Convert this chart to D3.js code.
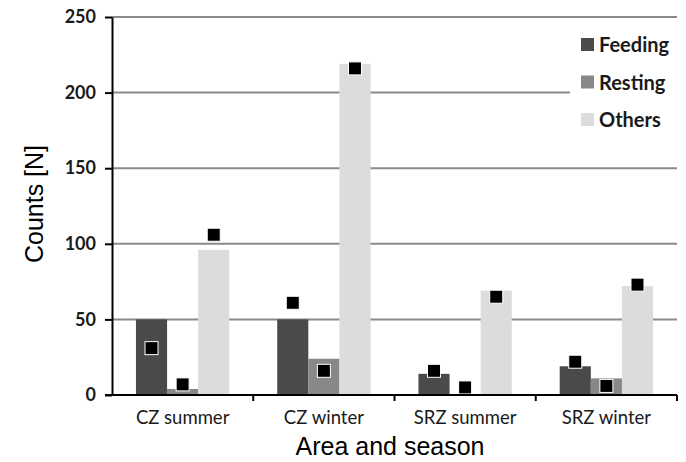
<!DOCTYPE html>
<html>
<head>
<meta charset="utf-8">
<script src="https://cdn.jsdelivr.net/npm/d3@7"></script>
<style>
  body { margin: 0; background: #fff; }
  svg { display: block; }
</style>
</head>
<body>
<div id="chart"></div>
<script>
// data
const categories = ["CZ summer", "CZ winter", "SRZ summer", "SRZ winter"];
const series = ["Feeding", "Resting", "Others"];
const feeding = [50, 50, 14, 19];
const resting = [4, 24, 0, 11];
const others = [96, 219, 69, 72];
// black square markers (one per bar)
const feedingPts = [31, 61, 16, 22];
const restingPts = [7, 16, 5, 6];
const othersPts = [106, 216, 65, 73];
const yTicks = [0, 50, 100, 150, 200, 250];

const width = 686, height = 462;
const margin = { top: 17, right: 9, bottom: 67, left: 112 };

const svg = d3.select("#chart")
  .append("svg")
  .attr("width", width)
  .attr("height", height);

const color = { "Feeding": "#4a4a4a", "Resting": "#888888", "Others": "#dcdcdc" };

const rows = categories.map((c, i) => ({
  cat: c,
  vals: [
    { s: "Feeding", v: feeding[i], p: feedingPts[i] },
    { s: "Resting", v: resting[i], p: restingPts[i] },
    { s: "Others", v: others[i], p: othersPts[i] }
  ]
}));

const x0 = d3.scaleBand()
  .domain(categories)
  .range([margin.left, width - margin.right])
  .paddingInner(0).paddingOuter(0);

const x1 = d3.scaleBand()
  .domain(series)
  .range([0, x0.bandwidth()])
  .paddingInner(0).paddingOuter(0.77);

const y = d3.scaleLinear()
  .domain([0, 250])
  .range([height - margin.bottom, margin.top]);

// gridlines
svg.append("g")
  .selectAll("line")
  .data(yTicks.filter(d => d > 0))
  .join("line")
  .attr("x1", margin.left)
  .attr("x2", width - margin.right)
  .attr("y1", d => y(d))
  .attr("y2", d => y(d))
  .attr("stroke", "#8a8a8a")
  .attr("stroke-width", 2);

// bars
const groups = svg.append("g")
  .selectAll("g")
  .data(rows)
  .join("g")
  .attr("transform", d => `translate(${x0(d.cat)},0)`);

groups.selectAll("rect")
  .data(d => d.vals)
  .join("rect")
  .attr("x", d => x1(d.s))
  .attr("y", d => y(d.v))
  .attr("width", x1.bandwidth())
  .attr("height", d => y(0) - y(d.v))
  .attr("fill", d => color[d.s]);

// markers
const ms = 13;
groups.selectAll("rect.pt")
  .data(d => d.vals)
  .join("rect")
  .attr("class", "pt")
  .attr("x", d => x1(d.s) + x1.bandwidth() / 2 - ms / 2)
  .attr("y", d => y(d.p) - ms / 2)
  .attr("width", ms)
  .attr("height", ms)
  .attr("fill", "#000")
  .attr("stroke", "#fff")
  .attr("stroke-width", 1);

// legend (white box over gridlines)
const legend = svg.append("g")
  .attr("transform", "translate(570, 26)");

legend.append("rect")
  .attr("width", 112)
  .attr("height", 114)
  .attr("fill", "#fff");

series.forEach((s, i) => {
  const g = legend.append("g")
    .attr("transform", `translate(11, ${12 + i * 37.5})`);
  g.append("rect")
    .attr("width", 13)
    .attr("height", 13)
    .attr("fill", color[s]);
  g.append("text")
    .attr("x", 18)
    .attr("y", 14)
    .style("font-family", "Lato, sans-serif")
    .style("font-size", "20px")
    .style("font-weight", "bold")
    .attr("fill", "#1a1a1a")
    .text(s);
});

// y axis
const yAxis = svg.append("g")
  .attr("transform", `translate(${margin.left},0)`)
  .call(d3.axisLeft(y).tickValues(yTicks).tickSize(7).tickPadding(9).tickSizeOuter(0));

// x axis
const xAxis = svg.append("g")
  .attr("transform", `translate(0,${y(0)})`)
  .call(d3.axisBottom(x0).tickSize(0).tickPadding(16));

// category boundary ticks
svg.append("g")
  .selectAll("line")
  .data(categories.slice(1).map(c => x0(c)).concat([width - margin.right]))
  .join("line")
  .attr("x1", d => d).attr("x2", d => d)
  .attr("y1", y(0)).attr("y2", y(0) + 6)
  .attr("stroke", "#000").attr("stroke-width", 2);

[yAxis, xAxis].forEach(a => {
  a.selectAll("path, line").attr("stroke", "#000").attr("stroke-width", 2);
  a.selectAll("text")
    .style("font-family", "Lato, sans-serif")
    .style("font-size", "18px")
    .style("font-weight", "bold")
    .attr("fill", "#1a1a1a");
});
xAxis.select(".domain").attr("d", `M${margin.left - 7},0H${width - margin.right}`);
xAxis.selectAll("text").style("font-size", "18.5px").style("font-weight", "normal");

// axis titles
svg.append("text")
  .attr("x", 390)
  .attr("y", 455)
  .attr("text-anchor", "middle")
  .style("font-family", "Liberation Sans, Arial, sans-serif")
  .style("font-size", "25px")
  .text("Area and season");

svg.append("text")
  .attr("transform", "rotate(-90)")
  .attr("x", -204)
  .attr("y", 43)
  .attr("text-anchor", "middle")
  .style("font-family", "Liberation Sans, Arial, sans-serif")
  .style("font-size", "25px")
  .text("Counts [N]");
</script>
</body>
</html>
